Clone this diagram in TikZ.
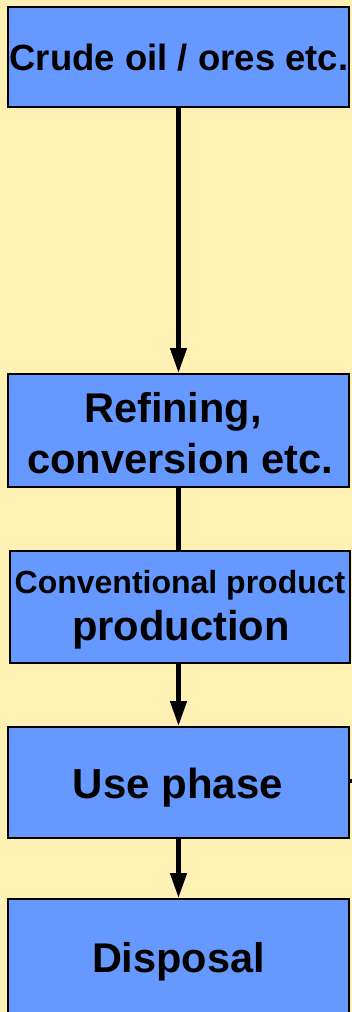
\documentclass[tikz,border=0pt]{standalone}
\usepackage{fontspec}
\setmainfont{Liberation Sans}
\usetikzlibrary{arrows.meta}
\definecolor{paper}{HTML}{FFF0B3}
\definecolor{boxblue}{HTML}{6699FF}
\tikzset{
  stage/.style={draw=black, line width=2pt, fill=boxblue, inner sep=0pt},
  txt/.style={anchor=base, inner sep=0pt, font=\bfseries},
  flow/.style={line width=4.5pt, -{Triangle[length=25pt,width=16pt]}},
  link/.style={line width=4.5pt}
}
\newcommand{\fs}[1]{\fontsize{#1}{#1}\selectfont}
\begin{document}
\begin{tikzpicture}[x=1pt,y=-1pt]
  \useasboundingbox (0,0) rectangle (352,1012);
  \clip (0,0) rectangle (352,1012);
  \fill[paper] (0,0) rectangle (352,1012);

  % process stages
  \node[stage, minimum width=341pt, minimum height=100pt] (crude) at (178.5,57) {};
  \node[stage, minimum width=341pt, minimum height=113pt] (refine) at (178.5,430.5) {};
  \node[stage, minimum width=340pt, minimum height=112pt] (prod) at (180,607) {};
  \node[stage, minimum width=341pt, minimum height=111pt] (use) at (178.5,782.5) {};
  \node[stage, minimum width=341pt, minimum height=122pt] (disp) at (178.5,960) {};

  % labels
  \node[txt, font=\bfseries\fs{36.5}] (tcrude) at (179,70) {Crude oil / ores etc.};
  \node[txt, font=\bfseries\fs{41.5}] (tref1) at (173,422) {Refining,};
  \node[txt, font=\bfseries\fs{41.7}] (tref2) at (180,473) {conversion etc.};
  \node[txt, font=\bfseries\fs{32}] (tprod1) at (180,593) {Conventional product};
  \node[txt, font=\bfseries\fs{41.7}] (tprod2) at (181,640) {production};
  \node[txt, font=\bfseries\fs{42}] (tuse) at (178,798) {Use phase};
  \node[txt, font=\bfseries\fs{41.5}] (tdisp) at (178.5,972) {Disposal};

  % connectors
  \draw[flow] (crude.south) -- (refine.north);
  \draw[link] (refine.south) -- (refine.south |- prod.north);
  \draw[flow] (refine.south |- prod.south) -- (use.north);
  \draw[flow] (use.south) -- (disp.north);
  \coordinate (out) at (370,781);
  \draw[line width=4pt] (use.east |- out) -- (out);
\end{tikzpicture}
\end{document}
